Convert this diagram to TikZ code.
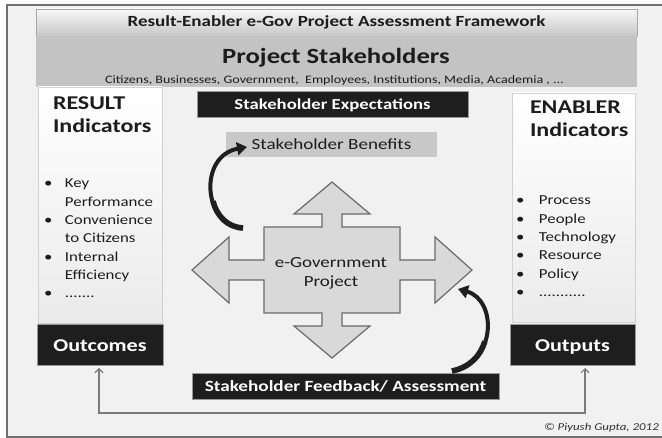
\documentclass[tikz,border=0pt]{standalone}
\usepackage{fontspec}
\setmainfont{Carlito}[FakeStretch=1.23]
\usetikzlibrary{arrows.meta}
\definecolor{bgc}{HTML}{F1F1F1}
\definecolor{framec}{HTML}{707070}
\definecolor{bandc}{HTML}{C3C3C3}
\definecolor{benc}{HTML}{C8C8C8}
\definecolor{crossc}{HTML}{D9D9D9}
\definecolor{crossd}{HTML}{6A6A6A}
\definecolor{boxk}{HTML}{1E1E1E}
\definecolor{txtc}{HTML}{1C1C1C}
\definecolor{connc}{HTML}{7A7A7A}
\newcommand\fsz[2]{\fontsize{#1}{#2}\selectfont}
\begin{document}
\begin{tikzpicture}[x=1pt,y=-1pt,
  every node/.style={inner sep=0pt, outer sep=0pt, text=txtc},
  titlebar/.style={draw=gray!70, line width=0.6pt, top color=white!97!black, bottom color=white!78!black,
     minimum width=601pt, minimum height=27pt, font=\fsz{15.5}{18}\bfseries},
  band/.style={fill=bandc, minimum width=601pt, minimum height=51pt},
  colbox/.style={draw=white!82!black, line width=0.6pt, top color=white, bottom color=white!92!black},
  head/.style={font=\fsz{19.5}{23}\bfseries, anchor=base west},
  listtxt/.style={font=\fsz{13.7}{18.3}, anchor=base west},
  kbox/.style={fill=boxk, draw=white!60!black, line width=0.7pt, text=white, text depth=0pt},
  benbox/.style={fill=benc, minimum width=211pt, minimum height=25pt, font=\fsz{15.5}{18}},
  bigarrow/.style={line width=4pt, black!88, -{Triangle[length=10pt,width=13pt]}},
  bigtail/.style={line width=5.6pt, black!88},
  conn/.style={draw=connc, line width=1.1pt}
]
\useasboundingbox (0,0) rectangle (662,438);
\clip (0,0) rectangle (662,438);
\fill[white] (0,0) rectangle (662,438);
\draw[fill=bgc, draw=framec, line width=1.5pt] (7,5) rectangle (700,437);

% header
\node[titlebar] (title) at (336.5,22.5) {Result-Enabler e-Gov Project Assessment Framework};
\node[band] (band) at (336.5,61.5) {};
\node[font=\fsz{21.7}{26}\bfseries, anchor=base] (ps) at (336,64) {Project Stakeholders};
\node[font=\fsz{11.4}{14}, anchor=base] (psub) at (334.5,83.5) {Citizens, Businesses, Government,\ \ Employees, Institutions, Media, Academia , ...};

% columns
\node[colbox, minimum width=124pt, minimum height=236pt] (rcol) at (100,205) {};
\node[colbox, minimum width=123pt, minimum height=229pt] (ecol) at (573.5,207.5) {};
\node[head] (rh1) at (53,110) {RESULT};
\node[head] (rh2) at (53,133) {Indicators};
\node[head] (eh1) at (530,114) {ENABLER};
\node[head] (eh2) at (530,137) {Indicators};
\node[listtxt] (rlist) at (44,188) {\begin{tabular}[t]{@{}p{21pt}@{}l@{}}
\textbullet & Key\\ & Performance\\ \textbullet & Convenience\\ & to Citizens\\
\textbullet & Internal\\ & Efficiency\\ \textbullet & .......\end{tabular}};
\node[listtxt] (elist) at (516,205) {\begin{tabular}[t]{@{}p{23pt}@{}l@{}}
\textbullet & Process\\ \textbullet & People\\ \textbullet & Technology\\
\textbullet & Resource\\ \textbullet & Policy\\ \textbullet & ...........\end{tabular}};

% outcome / output boxes
\node[kbox, minimum width=126pt, minimum height=41pt, text height=15pt, font=\fsz{18}{22}\bfseries] (outc) at (100,344.5) {Outcomes};
\node[kbox, minimum width=125pt, minimum height=41pt, text height=15pt, font=\fsz{18}{22}\bfseries] (outp) at (572.5,344.5) {Outputs};

% centre
\node[kbox, minimum width=271pt, minimum height=26pt, text height=11.2pt, font=\fsz{15.2}{18}\bfseries] (exp) at (332.5,104) {Stakeholder Expectations};
\node[benbox] (ben) at (331.5,144.5) {Stakeholder Benefits};

\draw[fill=crossc, draw=crossd, line width=1.2pt]
 (332,182) -- (370,214) -- (342,214) -- (342,227) -- (400,227) -- (400,260) -- (435,260) -- (435,237)
 -- (472,270) -- (435,303) -- (435,280) -- (400,280) -- (400,313) -- (342,313) -- (342,326) -- (370,326)
 -- (332,358) -- (294,326) -- (322,326) -- (322,313) -- (264,313) -- (264,280) -- (229,280) -- (229,303)
 -- (192,270) -- (229,237) -- (229,260) -- (264,260) -- (264,227) -- (322,227) -- (322,214) -- (294,214) -- cycle;
\node[align=center, font=\fsz{15.4}{19}] (proj) at (331,273) {e-Government\\Project};

\node[kbox, minimum width=307pt, minimum height=26pt, text height=11.6pt, font=\fsz{15.6}{18}\bfseries] (fb) at (345.5,386) {Stakeholder Feedback/ Assessment};

% curved arrows
\coordinate (c1s) at (243,228);
\coordinate (c1e) at (247,147);
\coordinate (c1m) at (213,201.2);
\draw[bigarrow] (c1s) .. controls (203,226) and (198,156) .. (c1e);
\draw[bigtail] (c1s) .. controls (227,227.2) and (216.6,215.5) .. (c1m);
\coordinate (c2s) at (452,371);
\coordinate (c2e) at (458,289);
\coordinate (c2m) at (484.8,341.4);
\draw[bigarrow] (c2s) .. controls (497,362) and (497,300) .. (c2e);
\draw[bigtail] (c2s) .. controls (470,367.4) and (480.8,355.3) .. (c2m);

% bottom connector
\coordinate (lb) at (99,413);
\coordinate (rb) at (585,413);
\draw[conn, {Straight Barb[length=4pt,width=8pt]}-{Straight Barb[length=4pt,width=8pt]}, shorten <=3pt, shorten >=3pt]
  (outc.south -| lb) -- (lb) -- (rb) -- (outp.south -| rb);

\node[font=\fsz{10.5}{12}\itshape, anchor=base west, text=black!80] (copy) at (544,431) {© Piyush Gupta, 2012};
\end{tikzpicture}
\end{document}
